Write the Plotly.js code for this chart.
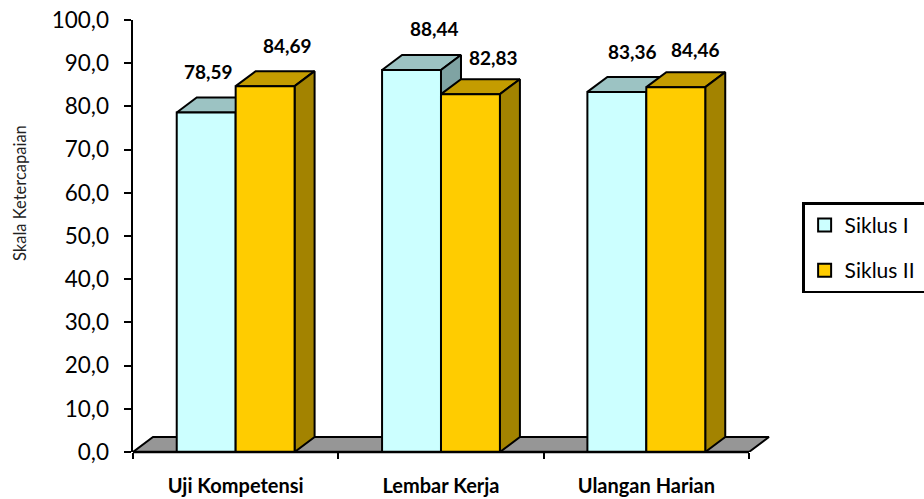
<!DOCTYPE html>
<html>
<head>
<meta charset="utf-8">
<script src="https://cdn.plot.ly/plotly-3.0.1.min.js"></script>
<style>html,body{margin:0;padding:0;background:#fff;overflow:hidden}</style>
</head>
<body>
<div id="chart" style="width:934px;height:499px"></div>
<script>
const categories = ['Uji Kompetensi', 'Lembar Kerja', 'Ulangan Harian'];
const siklusI = [78.59, 88.44, 83.36];
const siklusII = [84.69, 82.83, 84.46];
const yTicks = [0, 10, 20, 30, 40, 50, 60, 70, 80, 90, 100];

// Pixel nudges (dx, dy upward) of each value label from the top centre of its bar
const labelNudgeI = [[2, 41], [23, 41], [16, 40]];
const labelNudgeII = [[22, 41], [23, 37], [20, 38]];

const FONT = 'Lato, "Open Sans", sans-serif';
const barW = 0.287;      // bar width in category units
const depthX = 0.0974;   // oblique depth along x
const depthY = 3.47;     // oblique depth along y

function poly(points, fill) {
  return {
    type: 'scatter', mode: 'lines', x: points.map(p => p[0]), y: points.map(p => p[1]),
    fill: 'toself', fillcolor: fill, line: {color: '#000', width: 2, shape: 'linear'},
    showlegend: false, hoverinfo: 'skip', cliponaxis: false
  };
}

// One pseudo-3D bar: top face, side face, then front face painted last
function box(x0, v, front, top, side) {
  const x1 = x0 + barW;
  return [
    poly([[x0, v], [x1, v], [x1 + depthX, v + depthY], [x0 + depthX, v + depthY], [x0, v]], top),
    poly([[x1, 0], [x1 + depthX, depthY], [x1 + depthX, v + depthY], [x1, v], [x1, 0]], side),
    poly([[x0, 0], [x1, 0], [x1, v], [x0, v], [x0, 0]], front)
  ];
}

const centers = categories.map((c, i) => i + 0.5);

// Trailing no-break spaces widen the legend box so it runs off the page's right side
const legendPad = '\u00a0\u00a0\u00a0';

// Value points carry the legend entries; the faces are painted over them
const keyI = {type: 'scatter', mode: 'markers', name: 'Siklus I', legendgroup: 'a',
  x: centers.map(c => c - barW / 2), y: siklusI,
  marker: {symbol: 'square', size: 13, color: '#CCFFFF', line: {color: '#000', width: 2}}, hoverinfo: 'skip'};
const keyII = {type: 'scatter', mode: 'markers', name: 'Siklus II' + legendPad, legendgroup: 'b',
  x: centers.map(c => c + barW / 2), y: siklusII,
  marker: {symbol: 'square', size: 13, color: '#FFCC00', line: {color: '#000', width: 2}}, hoverinfo: 'skip'};

const floor = poly([[0, 0], [depthX, depthY], [categories.length + depthX, depthY], [categories.length, 0], [0, 0]], '#969696');

const traces = [keyI, keyII, floor];
centers.forEach((c, i) => {
  traces.push(...box(c - barW, siklusI[i], '#CCFFFF', '#9CC3C3', '#7FA3A3'));
  traces.push(...box(c, siklusII[i], '#FFCC00', '#C49C00', '#A38300'));
});

const annotations = [];
function addLabels(values, offset, nudges) {
  values.forEach((v, i) => annotations.push({
    x: centers[i] + offset, y: v, xref: 'x', yref: 'y', text: v.toFixed(2).replace('.', ','),
    showarrow: false, xanchor: 'center', yanchor: 'middle', xshift: nudges[i][0], yshift: nudges[i][1],
    font: {family: FONT, size: 19, color: '#000', weight: 700}
  }));
}
addLabels(siklusI, -barW / 2, labelNudgeI);
addLabels(siklusII, barW / 2, labelNudgeII);
annotations.push({
  x: (20 - 133) / 640, y: (452 - 193) / 432, xref: 'paper', yref: 'paper', text: 'Skala Ketercapaian', textangle: -90,
  showarrow: false, xanchor: 'center', yanchor: 'middle', font: {family: FONT, size: 16.5, color: '#222'}
});

// The page is slightly wider than the window so the legend box can extend past it
const layout = {
  width: 934, height: 499, autosize: false,
  margin: {l: 133, r: 161, t: 20, b: 47, pad: 0, autoexpand: false},
  paper_bgcolor: '#fff', plot_bgcolor: 'rgba(0,0,0,0)',
  separators: ',.',
  showlegend: true,
  legend: {
    x: 1.0455, y: 0.578, xanchor: 'left', yanchor: 'top', bgcolor: '#fff', bordercolor: '#000', borderwidth: 2.5,
    font: {family: FONT, size: 21, color: '#000'}, tracegroupgap: 15
  },
  xaxis: {
    type: 'linear', range: [0, 3.117], fixedrange: true, showgrid: false, zeroline: false, showline: false,
    tickmode: 'array', tickvals: centers, ticktext: categories, ticks: '', ticklabelstandoff: 20,
    tickfont: {family: FONT, size: 20, color: '#000', weight: 700},
    minor: {tickmode: 'array', tickvals: [0, 1, 2, 3], ticks: 'outside', ticklen: 6, tickwidth: 2, tickcolor: '#000', showgrid: false}
  },
  yaxis: {
    range: [0, 100], fixedrange: true, showgrid: false, zeroline: false, showline: true, linecolor: '#000', linewidth: 2.5,
    tickmode: 'array', tickvals: yTicks, tickformat: '.1f', ticks: 'outside', ticklen: 7, tickwidth: 2, tickcolor: '#000',
    ticklabelstandoff: 10, tickfont: {family: FONT, size: 22.5, color: '#000'}
  },
  shapes: [{type: 'line', xref: 'x', yref: 'paper', x0: 0, x1: categories.length, y0: 0, y1: 0, line: {color: '#000', width: 2.5}}],
  annotations: annotations
};

Plotly.newPlot('chart', traces, layout, {displayModeBar: false, staticPlot: true});
</script>
</body>
</html>
